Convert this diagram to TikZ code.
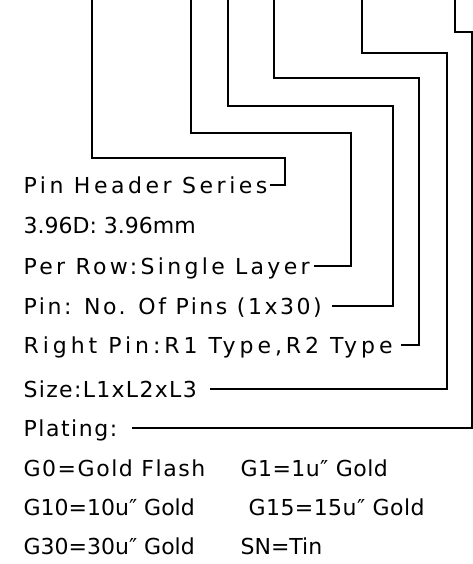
\documentclass[tikz,border=0pt]{standalone}
\usepackage{fontspec}
\setmainfont{DejaVu Sans}
\begin{document}
\begin{tikzpicture}[x=1pt, y=-1pt, line width=1.2pt,
		spec/.style={anchor=west, inner sep=0pt, text height=16pt, text depth=0pt, font=\fontsize{22}{22}\selectfont\addfontfeature{LetterSpace=#1}},
		spec/.default=12]
	\useasboundingbox (0, 0) rectangle (473, 564);
	\node[spec=16] (series) at (23, 185) {Pin Header Series};
	\node[spec=0] (pitch) at (23, 225) {3.96D: 3.96mm};
	\node[spec=15] (row) at (23, 266) {Per Row:Single Layer};
	\node[spec=11.5] (pins) at (23, 306) {Pin: No. Of Pins (1x30)};
	\node[spec=18] (type) at (23, 345) {Right Pin:R1 Type,R2 Type};
	\node[spec=6] (size) at (23, 389) {Size:L1xL2xL3};
	\node[spec=7] (plating) at (23, 428) {Plating:};
	\node[spec=7] (g0) at (23, 468) {G0=Gold Flash};
	\node[spec=2] (g1) at (240, 468) {G1=1u″ Gold};
	\node[spec=0] (g10) at (23, 507) {G10=10u″ Gold};
	\node[spec=2] (g15) at (248, 507) {G15=15u″ Gold};
	\node[spec=0] (g30) at (23, 546) {G30=30u″ Gold};
	\node[spec=0] (sn) at (240, 546) {SN=Tin};
	\foreach \x/\h/\v/\g/\n in {92/158/285/2/series, 191/133/351/4/row, 228/106/393/10/pins, 274/78/419/8/type, 362/53/447/13/size, 455/32/472/14/plating} {
		\coordinate (top-\n) at (\x, 0);
		\draw (top-\n) |- (\v, \h) |- ([xshift=\g]\n.east);
	}
\end{tikzpicture}
\end{document}
